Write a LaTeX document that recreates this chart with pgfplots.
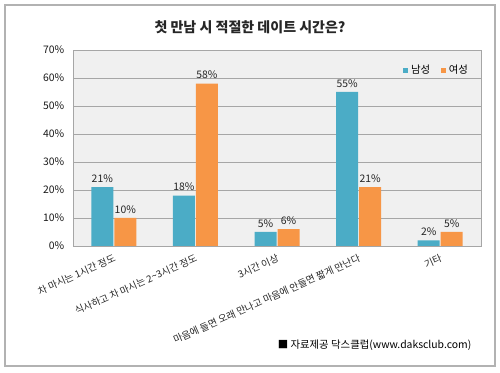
\documentclass[border=0pt]{standalone}
\usepackage{fontspec}
\setmainfont{Noto Sans CJK KR}
\usepackage{pgfplots}
\pgfplotsset{compat=1.18}
\definecolor{male}{HTML}{4BACC6}
\definecolor{female}{HTML}{F79646}
\begin{document}
\begin{tikzpicture}[x=0.75pt,y=0.75pt]
\path[use as bounding box] (0,0) rectangle (500,373);
\draw[black!30, line width=0.8pt] (5,7) rectangle (495,368);
\node[font=\bfseries\fontsize{10.5}{12}\selectfont, text=black!85] at (250,346) {첫 만남 시 적절한 데이트 시간은?};
\node[anchor=east, font=\fontsize{7.8}{9}\selectfont] at (476,28) {■ 자료제공 닥스클럽(www.daksclub.com)};
\begin{axis}[
  at={(54.75pt,95.25pt)}, anchor=south west,
  scale only axis, width=306pt, height=147pt,
  ybar=0.75pt, bar width=16.5pt,
  ymin=0, ymax=70, ytick={0,10,...,70},
  xmin=-0.5, xmax=4.5, xtick={0,...,4},
  xticklabels={차 마시는 1시간 정도, 식사하고 차 마시는 2\textasciitilde 3시간 정도, 3시간 이상, 마음에 들면 오래 만나고 마음에 안들면 짧게 만난다, 기타},
  x tick label style={rotate=24, anchor=north east, font=\fontsize{7.3}{8}\selectfont, inner sep=1pt, text=black!85},
  yticklabel={\pgfmathprintnumber{\tick}\%},
  /pgf/number format/assume math mode=true,
  y tick label style={font=\fontsize{7.8}{9}\selectfont, xshift=-3pt, text=black!90},
  ymajorgrids, grid style={black!35, line width=0.6pt},
  axis background/.style={fill=black!6},
  axis line style={black!35, line width=0.6pt},
  tick style={draw=none},
  nodes near coords={\pgfmathprintnumber{\pgfplotspointmeta}\%},
  every node near coord/.append style={font=\fontsize{7.8}{9}\selectfont, text=black!85},
  legend style={at={(rel axis cs:0.985,0.95)}, anchor=north east, draw=none, fill=none,
    font=\fontsize{7.8}{9}\selectfont, /tikz/every even column/.append style={column sep=6pt}},
  legend columns=2,
  legend image code/.code={\fill[#1] (0pt,-2pt) rectangle (4pt,2pt);},
]
\addplot[fill=male, draw=none] coordinates {(0,21) (1,18) (2,5) (3,55) (4,2)};
\addplot[fill=female, draw=none] coordinates {(0,10) (1,58) (2,6) (3,21) (4,5)};
\legend{남성, 여성}
\end{axis}
\end{tikzpicture}
\end{document}
